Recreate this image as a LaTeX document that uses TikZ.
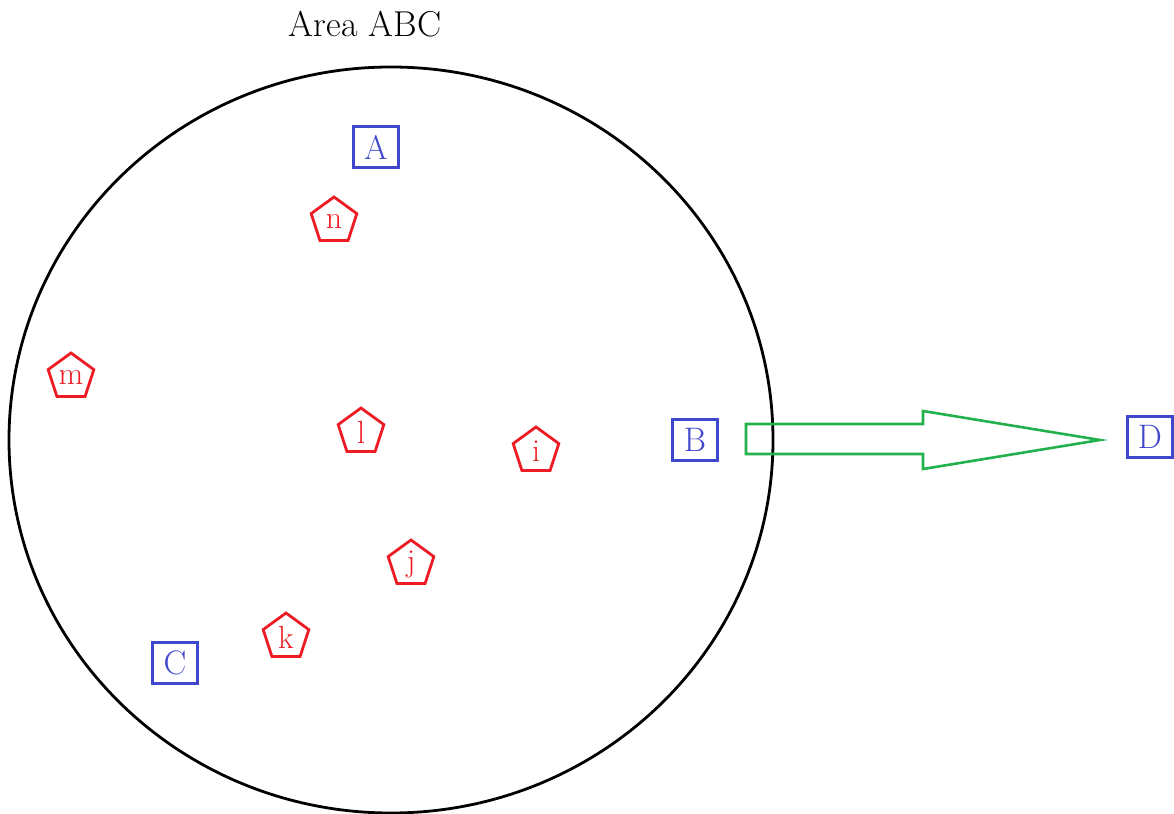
\documentclass[tikz,border=0pt]{standalone}
\usetikzlibrary{shapes.geometric}
\definecolor{pblue}{RGB}{63,72,204}
\definecolor{pred}{RGB}{237,28,36}
\definecolor{pgreen}{RGB}{34,177,76}
\tikzset{
  boxnode/.style={draw=pblue, text=pblue, line width=2.8pt, inner sep=0pt,
    minimum width=45pt, minimum height=41pt, font=\fontsize{34}{40}\selectfont},
  pent/.style={draw=pred, text=pred, line width=2.8pt, regular polygon, regular polygon sides=5,
    inner sep=0pt, minimum size=48pt, font=\fontsize{32}{38}\selectfont},
  area/.style={draw=black, line width=2.8pt},
  bigarrow/.style={draw=pgreen, line width=2.6pt, line join=miter},
}
\begin{document}
\begin{tikzpicture}[x=1pt,y=-1pt]
\useasboundingbox (0,0) rectangle (1174,813);
\draw[area] (391,440) ellipse [x radius=382, y radius=373];
\node[font=\fontsize{36}{42}\selectfont] (title) at (365,24) {Area ABC};
\node[boxnode] (A) at (376,147) {A};
\node[boxnode] (B) at (695,440) {B};
\node[boxnode] (C) at (175,663) {C};
\node[boxnode] (D) at (1150,437) {D};
\node[pent] (n) at (334,221) {n};
\node[pent] (m) at (71,377) {m};
\node[pent] (l) at (361,432) {l};
\node[pent] (i) at (536,451) {i};
\node[pent] (j) at (411,564) {j};
\node[pent] (k) at (286,637) {k};
\coordinate (tail) at (746,439);
\coordinate (tip) at (1100,440);
\draw[bigarrow] (tail |- 0,424) -- (923,424) -- (923,411) -- (tip) -- (923,469) -- (923,454) -- (tail |- 0,454) -- cycle;
\end{tikzpicture}
\end{document}
